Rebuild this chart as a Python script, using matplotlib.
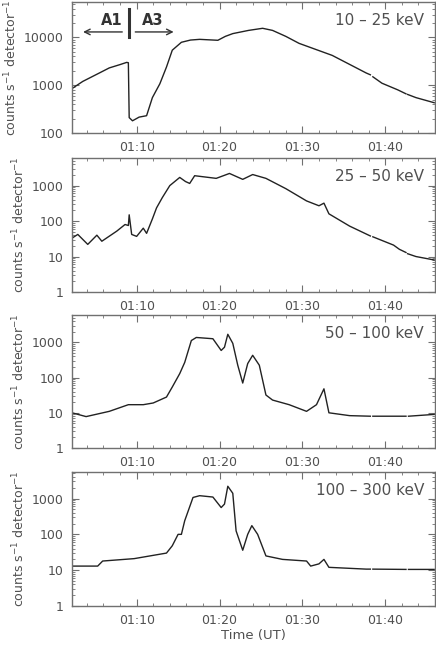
import numpy as np
import matplotlib.pyplot as plt
from matplotlib.ticker import MultipleLocator, FuncFormatter, LogLocator, NullFormatter

nan = np.nan

# minutes after 01:00 UT and count rates (nan = data gap)
t1 = [2.2, 3.5, 5.5, 6.7, 8.0, 8.8, 9.0, 9.1, 9.5, 10.3, 11.2, 11.9, 12.8, 13.6, 14.3, 15.4,
      16.5, 17.6, 19.8, 20.7, 21.6, 23.5, 25.2, 26.4, 28.0, 29.6, 33.6, 37.7, 38.2, 38.3, 38.5,
      39.6, 41.5, 42.5, 42.6, 42.7, 43.7, 45.9]
c1 = [850, 1200, 1800, 2300, 2700, 3000, 2950, 210, 180, 215, 230, 550, 1070, 2400, 5400, 7900,
      8800, 9100, 8700, 10500, 12000, 14000, 15500, 14000, 10500, 7500, 4200, 1800, 1650, nan, 1500,
      1100, 800, 660, nan, 640, 550, 430]

t2 = [2.2, 2.9, 4.1, 5.2, 5.8, 7.6, 8.6, 9.0, 9.1, 9.4, 10.0, 10.8, 11.2, 11.9, 12.4, 13.1, 14.0,
      15.2, 15.9, 16.4, 17.0, 19.6, 21.2, 22.8, 24.0, 25.6, 28.0, 30.5, 32.0, 32.6, 33.2, 35.7,
      38.2, 38.3, 38.5, 41.0, 41.7, 42.5, 42.6, 42.7, 43.7, 45.9]
c2 = [33, 42, 22, 40, 27, 52, 80, 75, 150, 42, 37, 63, 45, 115, 235, 460, 1000,
      1700, 1300, 1150, 1900, 1600, 2200, 1500, 2050, 1600, 820, 370, 270, 320, 160, 72,
      38, nan, 36, 21, 16, 13, nan, 12, 10, 8]

t3 = [2.2, 3.9, 6.7, 9.0, 10.8, 12.0, 13.6, 14.3, 15.2, 15.8, 16.6, 17.2, 19.2, 20.2, 20.6, 21.0,
      21.6, 22.2, 22.8, 23.4, 24.0, 24.8, 25.6, 26.4, 28.4, 30.5, 31.7, 32.6, 33.2, 35.7, 38.2,
      38.3, 38.5, 42.5, 42.6, 42.8, 45.9]
c3 = [10, 7.8, 11, 17, 17, 19, 28, 54, 130, 270, 1130, 1380, 1270, 590, 730, 1700,
      940, 225, 70, 250, 430, 225, 32, 23, 17, 11, 17, 48, 10, 8.3, 8,
      nan, 8, 8, nan, 8, 9]

t4 = [2.2, 5.3, 5.9, 9.7, 13.6, 14.3, 15.0, 15.4, 15.8, 16.8, 17.6, 19.2, 20.2, 20.6, 21.0, 21.6,
      22.0, 22.8, 23.4, 23.9, 24.6, 25.6, 27.6, 30.5, 31.0, 32.0, 32.6, 33.2, 37.7, 38.2, 38.3,
      38.5, 42.5, 42.6, 42.8, 45.9]
c4 = [13, 13, 18, 21, 30, 48, 100, 100, 240, 1070, 1200, 1100, 560, 700, 2200, 1400,
      125, 36, 100, 175, 100, 25, 20, 18, 13, 15, 20, 12, 10.7, 10.7, nan,
      10.7, 10.5, nan, 10.5, 10.5]

bands = ["10 \u2013 25 keV", "25 \u2013 50 keV", "50 \u2013 100 keV", "100 \u2013 300 keV"]
ylims = [(100, 5.5e4), (1, 6000), (1, 6000), (1, 5500)]
yticks = [[100, 1000, 10000], [1, 10, 100, 1000], [1, 10, 100, 1000], [1, 10, 100, 1000]]

# axes rectangles in figure pixels (top, bottom) for a 645 px tall figure
boxes = [(2, 133), (158, 292), (315, 448), (472, 606)]

txt = '#505050'
fig = plt.figure(figsize=(4.36, 6.45), dpi=100)

series = [(t1, c1), (t2, c2), (t3, c3), (t4, c4)]
for i, (t, c) in enumerate(series):
    top, bot = boxes[i]
    ax = fig.add_axes([72 / 436, 1 - bot / 645, 363 / 436, (bot - top) / 645])
    ax.plot(t, c, color='#222222', lw=1.0)
    ax.set_yscale('log')
    ax.set_xlim(2.2, 46)
    ax.set_ylim(*ylims[i])
    ax.set_yticks(yticks[i])
    ax.set_yticklabels([str(v) for v in yticks[i]])
    ax.yaxis.set_minor_locator(LogLocator(base=10, subs=np.arange(2, 10)))
    ax.yaxis.set_minor_formatter(NullFormatter())
    ax.xaxis.set_major_locator(MultipleLocator(10))
    ax.xaxis.set_minor_locator(MultipleLocator(2))
    ax.xaxis.set_major_formatter(FuncFormatter(lambda v, p: "01:%02d" % int(round(v))))
    ax.tick_params(which='both', direction='in', top=True, right=True, colors='#707070',
                   labelcolor=txt, labelsize=9)
    ax.tick_params(which='major', length=5, pad=6)
    ax.tick_params(which='minor', length=2.5)
    for s in ax.spines.values():
        s.set_color('#707070')
        s.set_linewidth(1.0)
    ax.text(0.97, 0.86, bands[i], transform=ax.transAxes, ha='right', va='center',
            fontsize=11, color=txt)
    ax.set_ylabel("counts s$^{-1}$ detector$^{-1}$", fontsize=9, color=txt, labelpad=3)

    if i == 0:
        ax.plot([9.05, 9.05], [1.0e4, 3.9e4], color='#333333', lw=2.2)
        ax.annotate("", xy=(3.2, 1.3e4), xytext=(8.6, 1.3e4),
                    arrowprops=dict(arrowstyle='->', color='#333333', lw=1.0))
        ax.annotate("", xy=(14.8, 1.3e4), xytext=(9.5, 1.3e4),
                    arrowprops=dict(arrowstyle='->', color='#333333', lw=1.0))
        ax.text(7.0, 2.3e4, "A1", ha='center', va='center', fontsize=10.5,
                fontweight='bold', color='#333333')
        ax.text(11.9, 2.3e4, "A3", ha='center', va='center', fontsize=10.5,
                fontweight='bold', color='#333333')
    if i == 3:
        ax.set_xlabel("Time (UT)", fontsize=9.5, color=txt, labelpad=1)

plt.savefig("out.png", dpi=100)
